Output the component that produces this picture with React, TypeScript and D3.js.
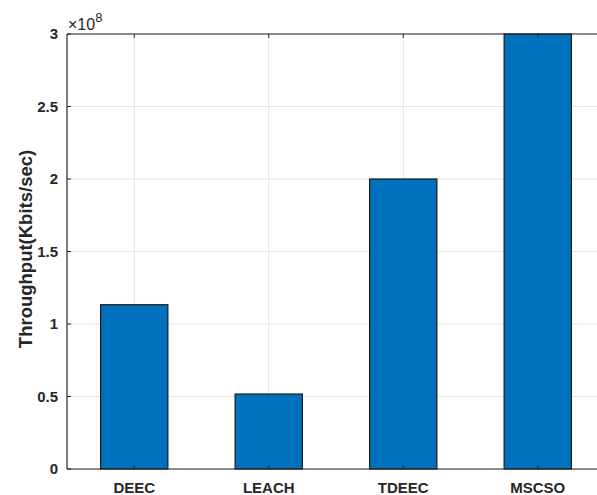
import React from "react";
import * as d3 from "d3";

const categories = ["DEEC", "LEACH", "TDEEC", "MSCSO"];
const throughput = [1.133e8, 0.517e8, 2.0e8, 3.0e8];
const yTicks = [0, 0.5, 1, 1.5, 2, 2.5, 3];
const yTickLabels = ["0", "0.5", "1", "1.5", "2", "2.5", "3"];
const exponent = 8;

const W = 597;
const H = 495;
const left = 67;
const top = 34;
const bottom = 469;
const step = 134.5;
const right = left + step * categories.length;

export default function App() {
  const x = d3
    .scaleBand<string>()
    .domain(categories)
    .range([left, right])
    .paddingInner(0.5)
    .paddingOuter(0.25);
  const y = d3.scaleLinear().domain([0, 3]).range([bottom, top]);
  const scale = Math.pow(10, exponent);
  const font = "'Liberation Sans', Arial, Helvetica, sans-serif";
  const textColor = "#262626";
  const axisColor = "#262626";

  return (
    <svg
      width={W}
      height={H}
      style={{ position: "fixed", left: 0, top: 0, background: "#fff" }}
      fontFamily={font}
    >
      <defs>
        <clipPath id="plotclip">
          <rect x={0} y={0} width={W} height={H} />
        </clipPath>
      </defs>
      <rect x={0} y={0} width={W} height={H} fill="#fff" />
      <g clipPath="url(#plotclip)">
        {/* grid */}
        {yTicks.map((t) => (
          <line
            key={"gy" + t}
            x1={left}
            x2={right}
            y1={y(t)}
            y2={y(t)}
            stroke="#e3e3e3"
            strokeWidth={1}
          />
        ))}
        {categories.map((c) => {
          const cx = (x(c) as number) + x.bandwidth() / 2;
          return (
            <line
              key={"gx" + c}
              x1={cx}
              x2={cx}
              y1={top}
              y2={bottom}
              stroke="#e3e3e3"
              strokeWidth={1}
            />
          );
        })}
        {/* bars */}
        {categories.map((c, i) => {
          const v = throughput[i] / scale;
          return (
            <rect
              key={"bar" + c}
              x={x(c) as number}
              y={y(Math.min(v, 3))}
              width={x.bandwidth()}
              height={bottom - y(Math.min(v, 3))}
              fill="#0072BD"
              stroke="#1a1a1a"
              strokeWidth={1.2}
            />
          );
        })}
        {/* axes */}
        <line x1={left} x2={right} y1={bottom} y2={bottom} stroke={axisColor} strokeWidth={1.2} />
        <line x1={left} x2={right} y1={top} y2={top} stroke={axisColor} strokeWidth={1.2} />
        <line x1={left} x2={left} y1={top} y2={bottom} stroke={axisColor} strokeWidth={1.2} />
        {yTicks.map((t) => (
          <line
            key={"ty" + t}
            x1={left}
            x2={left + 4}
            y1={y(t)}
            y2={y(t)}
            stroke={axisColor}
            strokeWidth={1}
          />
        ))}
        {categories.map((c) => {
          const cx = (x(c) as number) + x.bandwidth() / 2;
          return (
            <g key={"tx" + c}>
              <line x1={cx} x2={cx} y1={bottom} y2={bottom - 4} stroke={axisColor} strokeWidth={1} />
              <line x1={cx} x2={cx} y1={top} y2={top + 4} stroke={axisColor} strokeWidth={1} />
            </g>
          );
        })}
      </g>
      {/* tick labels */}
      {yTicks.map((t, i) => (
        <text
          key={"ly" + t}
          x={left - 9}
          y={y(t)}
          dy="0.36em"
          textAnchor="end"
          fontSize={15}
          fontWeight="bold"
          fill={textColor}
        >
          {yTickLabels[i]}
        </text>
      ))}
      {categories.map((c) => {
        const cx = (x(c) as number) + x.bandwidth() / 2;
        return (
          <text
            key={"lx" + c}
            x={cx}
            y={bottom + 24}
            textAnchor="middle"
            fontSize={15}
            fontWeight="bold"
            fill={textColor}
          >
            {c}
          </text>
        );
      })}
      {/* exponent */}
      <text x={left + 1} y={top - 4} fontSize={16} fill={textColor}>
        ×10
        <tspan dy={-8} fontSize={13}>
          {exponent}
        </tspan>
      </text>
      {/* y label */}
      <text
        transform={`translate(32, 249) rotate(-90)`}
        textAnchor="middle"
        fontSize={18.5}
        fontWeight="bold"
        fill={textColor}
      >
        Throughput(Kbits/sec)
      </text>
    </svg>
  );
}
